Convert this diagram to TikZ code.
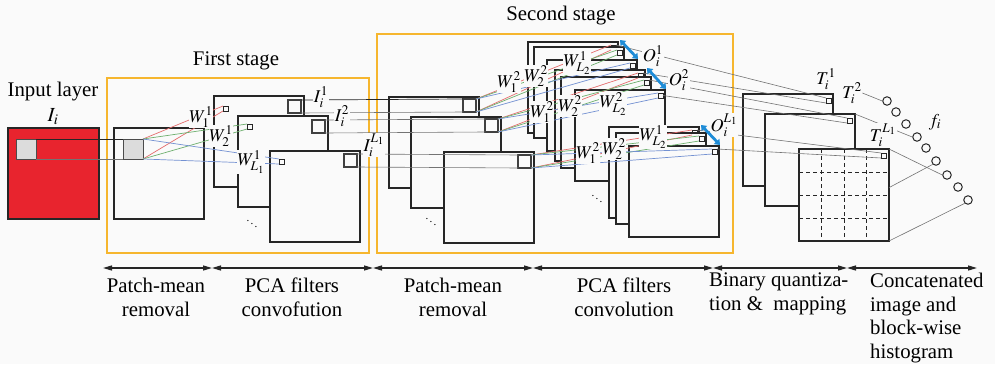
\documentclass[tikz,border=0pt]{standalone}
\usepackage{mathptmx}
\usepackage{fontspec}
\setmainfont{Liberation Serif}
\usetikzlibrary{arrows.meta,calc}

\definecolor{bg}{RGB}{250,250,250}
\definecolor{stageorange}{RGB}{246,182,46}
\definecolor{inred}{RGB}{232,36,46}
\definecolor{patchgray}{RGB}{220,220,220}
\definecolor{lred}{RGB}{228,110,110}
\definecolor{lgreen}{RGB}{110,175,110}
\definecolor{lblue}{RGB}{115,145,210}
\definecolor{oblue}{RGB}{30,140,215}

\begin{document}
\begin{tikzpicture}[x=1pt,y=-1pt,
  fmap/.style={draw=black!85, line width=1.4pt, fill=bg, minimum width=90pt,
    minimum height=91pt, inner sep=0pt, outer sep=0pt, anchor=north west},
  bigsq/.style={draw=black!75, line width=1.1pt, fill=bg, minimum size=13pt,
    inner sep=0pt, outer sep=0pt, anchor=north east},
  smallsq/.style={draw=black!85, line width=0.8pt, fill=bg, minimum size=5pt,
    inner sep=0pt, outer sep=0pt},
  patch/.style={draw=black!70, line width=1pt, fill=patchgray, minimum width=20pt,
    minimum height=20pt, inner sep=0pt, outer sep=0pt, anchor=north west},
  lab/.style={fill=bg, inner sep=0.5pt, font=\fontsize{18}{18}\selectfont},
  conn/.style={draw=black!55, line width=0.6pt},
  darkconn/.style={draw=black!85, line width=0.7pt},
  rline/.style={draw=lred, line width=0.7pt},
  gline/.style={draw=lgreen, line width=0.7pt},
  bline/.style={draw=lblue, line width=0.7pt},
  stagebox/.style={draw=stageorange, line width=2.4pt},
  outarrow/.style={draw=oblue, line width=2.8pt,
    {Triangle[length=5pt,width=7.5pt]}-{Triangle[length=5pt,width=7.5pt]}},
  spanarrow/.style={draw=black!85, line width=1.3pt,
    {Triangle[length=9pt,width=5pt]}-{Triangle[length=9pt,width=5pt]}},
  maintext/.style={font=\fontsize{20.8}{23.5}\selectfont, inner sep=0pt},
  gridline/.style={draw=black!85, line width=1pt, dash pattern=on 4pt off 3pt},
  histnode/.style={circle, draw=black!85, line width=1pt, fill=bg,
    minimum size=8.5pt, inner sep=0pt},
  dotsnode/.style={font=\fontsize{11}{11}\selectfont, inner sep=0pt}
]
% canvas
\fill[bg] (0,0) rectangle (995,364);
\useasboundingbox (0,0) rectangle (995,364);

% stage frames
\draw[stagebox] (107,78) rectangle (369,253);
\draw[stagebox] (377,34) rectangle (733,253);
\node[maintext] (first) at (236,61) {First stage};
\node[maintext] (second) at (561,16) {Second stage};

% input layer
\node[maintext] (inlab) at (53,92) {Input layer};
\node[maintext, font=\fontsize{20}{20}\selectfont] (inI) at (53,117) {$I_i$};
\node[fmap, fill=inred, minimum width=91pt] (inp) at (8,128) {};
\node[patch] (inpatch) at (16,139) {};

% first stage: patch-mean removal
\node[fmap] (mr) at (114,128) {};
\node[patch] (mrpatch) at (123,139) {};

% first stage: filtered maps
\node[fmap] (M1) at (214,96) {};
\node[smallsq, anchor=north west] (M1s) at ([shift={(9,10)}]M1.north west) {};
\node[bigsq] (M1q) at ([shift={(-3,4)}]M1.north east) {};
\node[fmap] (M2) at (238,116) {};
\node[smallsq, anchor=north west] (M2s) at ([shift={(9,8)}]M2.north west) {};
\node[bigsq] (M2q) at ([shift={(-3,4)}]M2.north east) {};
\node[fmap] (M3) at (270,151) {};
\node[smallsq, anchor=north west] (M3s) at ([shift={(9,8)}]M3.north west) {};
\node[bigsq] (M3q) at ([shift={(-3,3)}]M3.north east) {};
\node[dotsnode] (d1) at (252,221) {$\ddots$};

% second stage: patch-mean removal
\node[fmap] (P1) at (389,97) {};
\node[bigsq] (P1q) at ([shift={(-3,2)}]P1.north east) {};
\node[fmap] (P2) at (411,117) {};
\node[bigsq] (P2q) at ([shift={(-3,2)}]P2.north east) {};
\node[fmap] (P3) at (444,152) {};
\node[bigsq] (P3q) at ([shift={(-3,3)}]P3.north east) {};
\node[dotsnode] (d2) at (431,219) {$\ddots$};

% second stage: filtered maps, three groups
\foreach \n/\x/\y in {A1/528/42, A2/534/47, A3/547/60,
                      B1/555/70, B2/561/77, B3/575/90,
                      C1/609/127, C2/616/133, C3/629/146}{
  \node[fmap] (\n) at (\x,\y) {};
  \node[smallsq, anchor=north east] (\n s) at ([shift={(-2,3)}]\n.north east) {};
}
\node[dotsnode] (d3) at (597,196) {$\ddots$};

% binary quantization maps
\node[fmap, minimum height=92pt] (T1) at (743,94) {};
\node[smallsq, anchor=north east] (T1s) at ([shift={(-2,4)}]T1.north east) {};
\node[fmap, minimum height=92pt] (T2) at (765,114) {};
\node[smallsq, anchor=north east] (T2s) at ([shift={(-3,4)}]T2.north east) {};
\node[fmap, minimum height=92pt] (T3) at (799,149) {};
\foreach \k in {1,2,3}{
  \draw[gridline] ($(T3.north west)!\k/4!(T3.north east)$) -- ($(T3.south west)!\k/4!(T3.south east)$);
  \draw[gridline] ($(T3.north west)!\k/4!(T3.south west)$) -- ($(T3.north east)!\k/4!(T3.south east)$);
}
\node[smallsq, anchor=north east] (T3s) at ([shift={(-3,4)}]T3.north east) {};

% histogram feature vector
\foreach \i/\x/\y in {1/887/101, 2/896/112, 3/906/124, 4/917/137, 5/926/148,
                      6/936/161, 7/947/175, 8/958/187, 9/968/200}{
  \node[histnode] (c\i) at (\x,\y) {};
}

% input patch to patch-mean removal
\draw[darkconn] (inpatch.north east) -- (mrpatch.north west);
\draw[conn] (inpatch.south east) -- (mrpatch.south west);

% first-stage PCA filters
\draw[rline] (mrpatch.north east) -- (M1s.north west);
\draw[rline] (mrpatch.south east) -- (M1s.south west);
\draw[gline] (mrpatch.north east) -- (M2s.north west);
\draw[gline] (mrpatch.south east) -- (M2s.south west);
\draw[bline] (mrpatch.north east) -- (M3s.north west);
\draw[bline] (mrpatch.south east) -- (M3s.south west);

% first-stage outputs into second stage
\draw[darkconn] (M1q.north east) -- (P1q.north west);
\draw[conn] (M1q.south east) -- (P1q.south west);
\draw[conn] (M2q.north east) -- (P2q.north west);
\draw[conn] (M2q.south east) -- (P2q.south west);
\draw[conn] (M3q.north east) -- (P3q.north west);
\draw[conn] (M3q.south east) -- (P3q.south west);

% second-stage PCA filters
\foreach \p/\g in {P1q/A, P2q/B, P3q/C}{
  \draw[rline] (\p.north east) -- (\g1s.north west);
  \draw[rline] (\p.south east) -- (\g1s.south west);
  \draw[gline] (\p.north east) -- (\g2s.north west);
  \draw[gline] (\p.south east) -- (\g2s.south west);
  \draw[bline] (\p.north east) -- (\g3s.north west);
  \draw[bline] (\p.south east) -- (\g3s.south west);
}

% outputs to binary maps
\draw[conn] (A1s.north east) -- (T1s.north west);
\draw[conn] (B1s.north east) -- (T1s.south west);
\draw[conn] (B2s.north east) -- (T2s.north west);
\draw[conn] (B3s.east) -- (T2s.south west);
\draw[conn] (C1s.north east) -- (T3s.north west);
\draw[conn] (C3s.north east) -- (T3s.south west);

% histogram connections
\draw[conn] (T2.north east) -- (c4.west);
\draw[conn] (T3.north east) -- (c7.west);
\draw[conn] ($(T3.north east)!0.42!(T3.south east)$) coordinate (t3m) -- (c6.south west);
\draw[conn] (T3.south east) -- (c9.south west);

% labels
\node[lab] (w11) at (201,117) {$W^1_1$};
\node[lab] (w12) at (221,136) {$W^1_2$};
\node[lab] (w1L) at (251,162) {$W^1_{L_1}$};
\node[lab] (I1) at (321,97) {$I^1_i$};
\node[lab] (I2) at (342,116) {$I^2_i$};
\node[lab] (IL) at (374,145) {$I^{L_1}_i$};

\node[lab] (wA1) at (509,82) {$W^2_1$};
\node[lab] (wA2) at (536,76) {$W^2_2$};
\node[lab] (wAL) at (577,63) {$W^1_{L_2}$};
\node[lab] (wB1) at (542,112) {$W^2_1$};
\node[lab] (wB2) at (570,106) {$W^2_2$};
\node[lab] (wBL) at (613,104) {$W^2_{L_2}$};
\node[lab] (wC1) at (588,153) {$W^2_1$};
\node[lab] (wC2) at (614,149) {$W^2_2$};
\node[lab] (wCL) at (653,137) {$W^1_{L_2}$};

\node[lab] (O1) at (653,56) {$O^1_i$};
\node[lab] (O2) at (679,80) {$O^2_i$};
\node[lab] (OL) at (724,125) {$O^{L_1}_i$};

\node[lab] (Tl1) at (826,79) {$T^1_i$};
\node[lab] (Tl2) at (852,93) {$T^2_i$};
\node[lab] (TlL) at (883,135) {$T^{L_1}_i$};
\node[lab] (fi) at (935,122) {$f_i$};
\draw[conn] (Tl2.east) -- (c1.west);

% output indicator arrows
\draw[outarrow] ([shift={(2,-2)}]A1.north east) -- ([shift={(1,-1)}]A3.north east);
\draw[outarrow] ([shift={(2,-2)}]B1.north east) -- ([shift={(1,-1)}]B3.north east);
\draw[outarrow] ([shift={(2,-2)}]C1.north east) -- ([shift={(1,-1)}]C3.north east);

% processing steps
\foreach \i/\x in {0/103, 1/212, 2/373, 3/533, 4/713, 5/847, 6/977}{
  \coordinate (b\i) at (\x,268);
}
\draw[spanarrow] (b0) -- (b1);
\draw[spanarrow] (b1) -- (b2);
\draw[spanarrow] (b2) -- (b3);
\draw[spanarrow] (b3) -- (b4);
\draw[spanarrow] (b4) -- (b5);
\draw[spanarrow] (b5) -- (b6);

\node[maintext, anchor=north, align=center] (s1) at (156,278) {Patch-mean\\removal};
\node[maintext, anchor=north, align=center] (s2) at (292,278) {PCA filters\\convofution};
\node[maintext, anchor=north, align=center] (s3) at (453,278) {Patch-mean\\removal};
\node[maintext, anchor=north, align=center] (s4) at (624,278) {PCA filters\\convolution};
\node[maintext, anchor=north west, align=left] (s5) at (709,273) {Binary quantiza-\\tion \&~ mapping};
\node[maintext, anchor=north west, align=left] (s6) at (870,273) {Concatenated\\image and\\block-wise\\histogram};
\end{tikzpicture}
\end{document}
